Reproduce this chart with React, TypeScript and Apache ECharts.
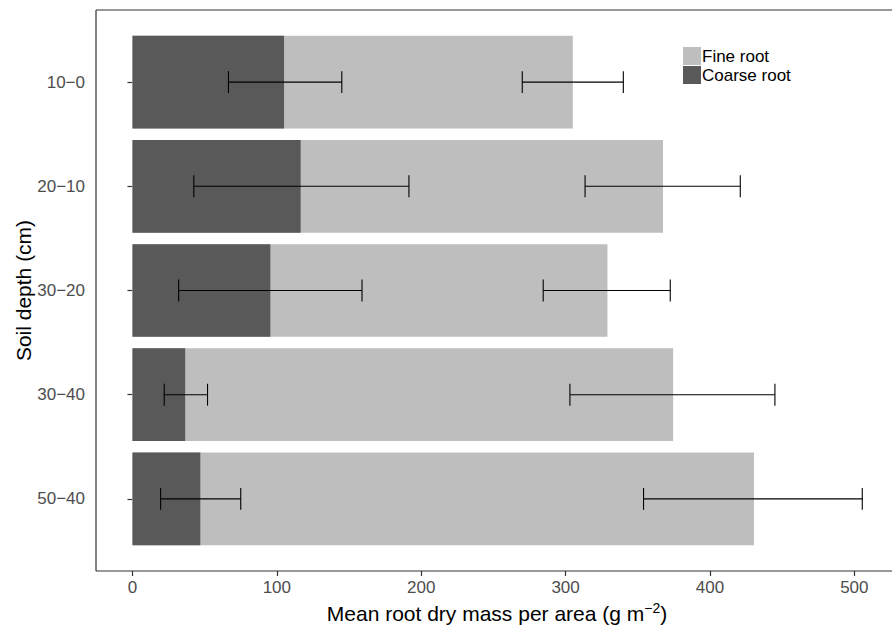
import React, { useEffect, useRef } from "react";
import * as echarts from "echarts";

const categories = ["10−0", "20−10", "30−20", "30−40", "50−40"];
const fineRoot = [305, 367.5, 329, 374.5, 430.5];
const fineLow = [270, 313.5, 284.5, 303, 354];
const fineHigh = [340, 421, 372.5, 445, 505.5];
const coarseRoot = [105, 116.5, 95.5, 36.5, 47];
const coarseLow = [66.5, 42.5, 32, 22, 19.5];
const coarseHigh = [145, 191.5, 159, 52, 75];
const xTicks = [0, 100, 200, 300, 400, 500];

const FONT = "Liberation Sans, Arial, sans-serif";

function errorSeries(name: string, low: number[], high: number[]) {
  return {
    type: "custom",
    name,
    z: 10,
    silent: true,
    encode: { x: [0, 1], y: 2 },
    data: low.map((l, i) => [l, high[i], i]),
    renderItem: (params: any, api: any) => {
      const lo = api.value(0);
      const hi = api.value(1);
      const idx = api.value(2);
      const p1 = api.coord([lo, idx]);
      const p2 = api.coord([hi, idx]);
      const band = api.size([0, 1])[1];
      const h = band * 0.105;
      const style = { stroke: "#000", lineWidth: 1.1 };
      return {
        type: "group",
        children: [
          { type: "line", shape: { x1: p1[0], y1: p1[1], x2: p2[0], y2: p2[1] }, style },
          { type: "line", shape: { x1: p1[0], y1: p1[1] - h, x2: p1[0], y2: p1[1] + h }, style },
          { type: "line", shape: { x1: p2[0], y1: p2[1] - h, x2: p2[0], y2: p2[1] + h }, style },
        ],
      };
    },
  };
}

export default function App() {
  const ref = useRef<HTMLDivElement>(null);
  useEffect(() => {
    if (!ref.current) return;
    const chart = echarts.init(ref.current, null, { renderer: "svg" });
    const frameStyle = { stroke: "#333", lineWidth: 1.2 };
    chart.setOption({
      animation: false,
      backgroundColor: "#fff",
      textStyle: { fontFamily: FONT },
      grid: { left: 96, width: 802, top: 30, height: 521, containLabel: false, outerBoundsMode: "none" },
      graphic: [
        { type: "line", shape: { x1: 96, y1: 10, x2: 892, y2: 10 }, style: frameStyle, silent: true },
        { type: "line", shape: { x1: 96, y1: 10, x2: 96, y2: 571 }, style: frameStyle, silent: true },
        { type: "line", shape: { x1: 96, y1: 571, x2: 892, y2: 571 }, style: frameStyle, silent: true },
      ],
      legend: {
        data: ["Fine root", "Coarse root"],
        orient: "vertical",
        left: 683,
        top: 47,
        padding: 0,
        icon: "rect",
        itemWidth: 18,
        itemHeight: 18,
        itemGap: 1,
        textStyle: { fontSize: 17, color: "#000", fontFamily: FONT, padding: [0, 0, 0, -4] },
      },
      xAxis: {
        type: "value",
        min: -25.25,
        max: 530.25,
        offset: 20,
        name: "{a|Mean root dry mass per area (g m}{s|−2}{a|)}",
        nameLocation: "middle",
        nameGap: 27,
        nameTextStyle: {
          rich: {
            a: { fontSize: 21, color: "#000", fontFamily: FONT },
            s: { fontSize: 14, color: "#000", fontFamily: FONT, padding: [0, 0, 12, 0] },
          },
        },
        axisLine: { show: false },
        axisTick: { show: true, length: 5, lineStyle: { color: "#333", width: 1.2 }, customValues: xTicks },
        axisLabel: { color: "#4D4D4D", fontSize: 17, margin: 8, fontFamily: FONT, customValues: xTicks },
        splitLine: { show: false },
      },
      yAxis: {
        type: "category",
        data: categories,
        inverse: true,
        name: "Soil depth (cm)",
        nameLocation: "middle",
        nameGap: 62,
        nameMoveOverlap: false,
        nameRotate: 90,
        nameTextStyle: { fontSize: 21, color: "#000", fontFamily: FONT },
        axisLine: { show: false },
        axisTick: { show: true, alignWithLabel: true, length: 5, lineStyle: { color: "#333", width: 1.2 } },
        axisLabel: { color: "#4D4D4D", fontSize: 17, margin: 11, fontFamily: FONT },
        splitLine: { show: false },
      },
      series: [
        {
          type: "bar",
          name: "Fine root",
          data: fineRoot,
          barWidth: "89%",
          barGap: "-100%",
          itemStyle: { color: "#BEBEBE" },
          z: 2,
        },
        {
          type: "bar",
          name: "Coarse root",
          data: coarseRoot,
          barWidth: "89%",
          barGap: "-100%",
          itemStyle: { color: "#595959" },
          z: 3,
        },
        errorSeries("Coarse error", coarseLow, coarseHigh),
        errorSeries("Fine error", fineLow, fineHigh),
      ],
    });
    return () => chart.dispose();
  }, []);
  return (
    <div
      ref={ref}
      style={{ position: "fixed", left: 0, top: 0, width: 892, height: 632 }}
    />
  );
}
